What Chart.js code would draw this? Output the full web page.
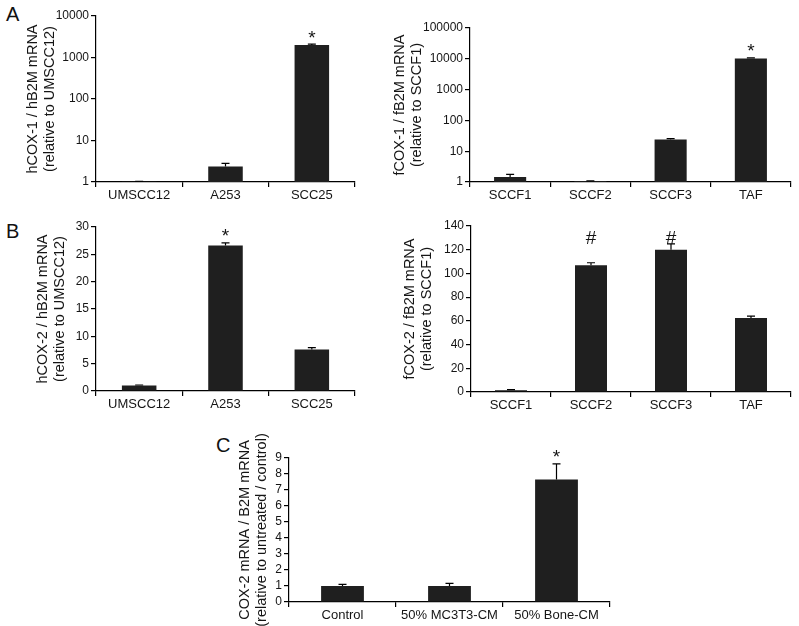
<!DOCTYPE html>
<html>
<head>
<meta charset="utf-8">
<script src="https://cdn.jsdelivr.net/npm/chart.js@4.4.1/dist/chart.umd.min.js"></script>
<style>
  html, body { margin:0; padding:0; background:#fff; }
  body { width:799px; height:626px; position:relative; overflow:hidden; font-family:"Liberation Sans", Arial, sans-serif; }
  .panel { position:absolute; }
  .lbl { position:absolute; font-size:20px; line-height:1; color:#111; }
</style>
</head>
<body>
<div class="lbl" style="left:6px; top:4px;">A</div>
<div class="lbl" style="left:6px; top:221px;">B</div>
<div class="lbl" style="left:216px; top:435px;">C</div>

<div class="panel" id="pA1"><canvas id="cA1"></canvas></div>
<div class="panel" id="pA2"><canvas id="cA2"></canvas></div>
<div class="panel" id="pB1"><canvas id="cB1"></canvas></div>
<div class="panel" id="pB2"><canvas id="cB2"></canvas></div>
<div class="panel" id="pC"><canvas id="cC"></canvas></div>

<script>
// ---------------- data ----------------
const catsHuman = ['UMSCC12', 'A253', 'SCC25'];
const catsFeline = ['SCCF1', 'SCCF2', 'SCCF3', 'TAF'];
const catsC = ['Control', '50% MC3T3-CM', '50% Bone-CM'];

const valsA1 = [1.02, 2.35, 2000];
const errA1 = [0.02, 0.45, 90];
const marksA1 = ['', '', '*'];
const ticksA1 = [1, 10, 100, 1000, 10000];

const valsA2 = [1.45, 1.05, 24, 10300];
const errA2 = [0.33, 0.03, 1.5, 400];
const marksA2 = ['', '', '', '*'];
const ticksA2 = [1, 10, 100, 1000, 10000, 100000];

const valsB1 = [1.0, 26.6, 7.6];
const errB1 = [0.1, 0.5, 0.35];
const marksB1 = ['', '*', ''];
const ticksB1 = [0, 5, 10, 15, 20, 25, 30];

const valsB2 = [1.5, 107, 120, 62.5];
const errB2 = [0.5, 2, 5, 1.5];
const marksB2 = ['', '#', '#', ''];
const markLevelB2 = 130;
const ticksB2 = [0, 20, 40, 60, 80, 100, 120, 140];

const valsC = [1.0, 1.0, 7.65];
const errC = [0.1, 0.17, 0.98];
const marksC = ['', '', '*'];
const ticksC = [0, 1, 2, 3, 4, 5, 6, 7, 8, 9];

// ---------------- helpers ----------------
const FONT = '"Liberation Sans", Arial, sans-serif';
const INK = '#151515';

const errPlugin = {
  id: 'errbars',
  afterDatasetsDraw(chart, args, o) {
    const ctx = chart.ctx;
    const ys = chart.scales.y;
    const meta = chart.getDatasetMeta(0);
    const data = chart.data.datasets[0].data;
    meta.data.forEach((bar, i) => {
      const v = data[i], e = o.errors[i];
      const yTop = ys.getPixelForValue(v + e);
      ctx.save();
      ctx.strokeStyle = '#000';
      ctx.lineWidth = 1.2;
      ctx.beginPath();
      ctx.moveTo(bar.x, bar.y);
      ctx.lineTo(bar.x, yTop);
      ctx.moveTo(bar.x - 4, yTop);
      ctx.lineTo(bar.x + 4, yTop);
      ctx.stroke();
      const m = o.marks[i];
      if (m) {
        ctx.fillStyle = INK;
        ctx.font = '19px ' + FONT;
        ctx.textAlign = 'center';
        ctx.textBaseline = 'alphabetic';
        const mt = ctx.measureText(m);
        const cy = (o.markLevel != null) ? ys.getPixelForValue(o.markLevel) : yTop - 10;
        const base = cy + (mt.actualBoundingBoxAscent - mt.actualBoundingBoxDescent) / 2;
        ctx.fillText(m, bar.x, base);
      }
      ctx.restore();
    });
  }
};

const YW = 90, PR = 6, XH = 30;

function makeChart(id, area, cats, vals, errs, marks, tickVals, yType, yMin, yMax, title, titlePad, markLevel, PT) {
  const panel = document.getElementById('p' + id);
  const cv = document.getElementById('c' + id);
  const left = area.l - YW, top = area.t - PT;
  const w = area.r + PR - left, h = area.b + XH - top;
  panel.style.left = left + 'px';
  panel.style.top = top + 'px';
  cv.width = w; cv.height = h;
  cv.style.width = w + 'px'; cv.style.height = h + 'px';

  new Chart(cv, {
    type: 'bar',
    data: {
      labels: cats,
      datasets: [{
        data: vals,
        backgroundColor: '#1f1f1f',
        borderWidth: 0,
        barPercentage: 0.40,
        categoryPercentage: 1.0
      }]
    },
    options: {
      responsive: false,
      animation: false,
      devicePixelRatio: 1,
      layout: { padding: { top: PT, right: PR, left: 0, bottom: 0 } },
      plugins: {
        legend: { display: false },
        tooltip: { enabled: false },
        errbars: { errors: errs, marks: marks, markLevel: markLevel }
      },
      scales: {
        x: {
          grid: { display: true, drawOnChartArea: false, drawTicks: true, tickLength: 5, color: '#000', lineWidth: 1.2, offset: true },
          border: { display: true, color: '#000', width: 1.2 },
          ticks: { color: INK, font: { family: FONT, size: 13 }, padding: 1, maxRotation: 0, autoSkip: false },
          afterFit(s) { s.height = XH; }
        },
        y: {
          type: yType,
          min: yMin,
          max: yMax,
          grid: { display: true, drawOnChartArea: false, drawTicks: true, tickLength: 5, color: '#000', lineWidth: 1.2 },
          border: { display: true, color: '#000', width: 1.2 },
          ticks: { color: INK, font: { family: FONT, size: 12 }, padding: 2, autoSkip: false, callback: v => String(v) },
          afterBuildTicks(s) { s.ticks = tickVals.map(v => ({ value: v })); },
          afterFit(s) { s.width = YW; },
          title: {
            display: true,
            text: title,
            color: INK,
            font: { family: FONT, size: 14.5, lineHeight: 1.15 },
            padding: { top: titlePad, bottom: 0 }
          }
        }
      }
    },
    plugins: [errPlugin]
  });
}

makeChart('A1', { l: 96, r: 355, t: 16, b: 182 }, catsHuman, valsA1, errA1, marksA1, ticksA1,
  'logarithmic', 1, 10000, ['hCOX-1 / hB2M mRNA', '(relative to UMSCC12)'], 18.7, null, 12);
makeChart('A2', { l: 470, r: 791, t: 28, b: 182 }, catsFeline, valsA2, errA2, marksA2, ticksA2,
  'logarithmic', 1, 100000, ['fCOX-1 / fB2M mRNA', '(relative to SCCF1)'], 11.6, null, 12);
makeChart('B1', { l: 96, r: 355, t: 227, b: 391 }, catsHuman, valsB1, errB1, marksB1, ticksB1,
  'linear', 0, 30, ['hCOX-2 / hB2M mRNA', '(relative to UMSCC12)'], 28.6, null, 12);
makeChart('B2', { l: 471, r: 791, t: 226, b: 392 }, catsFeline, valsB2, errB2, marksB2, ticksB2,
  'linear', 0, 140, ['fCOX-2 / fB2M mRNA', '(relative to SCCF1)'], 20.6, markLevelB2, 12);
makeChart('C', { l: 289, r: 610, t: 458, b: 602 }, catsC, valsC, errC, marksC, ticksC,
  'linear', 0, 9, ['COX-2 mRNA / B2M mRNA', '(relative to untreated / control)'], 37.6, null, 50);
</script>
</body>
</html>
